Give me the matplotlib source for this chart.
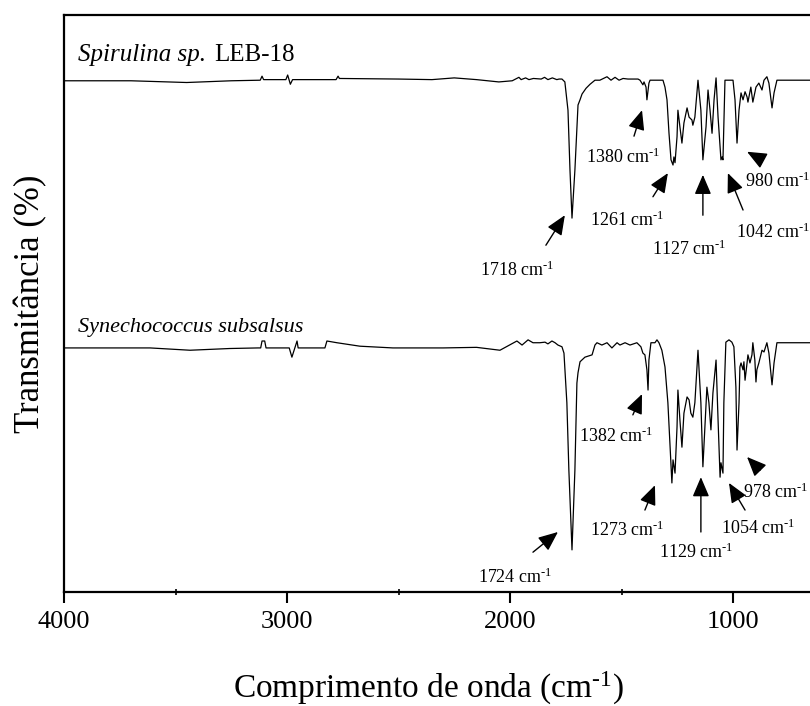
import numpy as np
import matplotlib
matplotlib.use('Agg')
import matplotlib.pyplot as plt
from matplotlib.ticker import MultipleLocator

plt.rcParams['font.family'] = ['Liberation Serif', 'DejaVu Serif']
plt.rcParams['mathtext.fontset'] = 'custom'
plt.rcParams['mathtext.rm'] = 'Liberation Serif'
plt.rcParams['mathtext.it'] = 'Liberation Serif:italic'

# Spirulina sp. LEB-18 (wavenumber cm-1, transmittance a.u.)
spir_wn = [4000, 3700, 3450, 3250, 3120, 3112, 3105, 3005, 2997, 2985, 2975, 2780, 2771, 2765,
           2500, 2350, 2250, 2150, 2050, 1990, 1960, 1950, 1930, 1915, 1895,
           1860, 1845, 1830, 1810, 1790, 1780,
           1767, 1754, 1740, 1731, 1722, 1709, 1695, 1686, 1677, 1659, 1641, 1619,
           1597, 1565, 1547, 1529, 1511, 1493, 1471, 1426,
           1417, 1404, 1399, 1390, 1386, 1377, 1372, 1314,
           1305, 1296, 1287, 1278, 1269, 1265, 1260, 1251, 1247, 1238, 1229, 1220,
           1206, 1197, 1184, 1180, 1171, 1157, 1144, 1135, 1121, 1112, 1103, 1094,
           1085, 1076, 1067, 1054, 1049, 1045, 1036, 1000, 991, 982, 973, 964,
           955, 946, 937, 933, 920, 911, 897, 884, 870, 861, 848, 839, 825, 816, 803, 650]
spir_t = [88.6, 88.6, 88.3, 88.6, 88.7, 89.4, 88.8, 88.8, 89.6, 88.0, 88.8, 88.8, 89.4, 89.0,
          88.9, 88.8, 89.1, 88.8, 88.4, 88.6, 89.2, 88.8, 89.1, 88.8, 89.0,
          88.9, 89.2, 88.8, 89.1, 88.8, 88.9,
          88.9, 88.4, 83.5, 73.1, 64.8, 73.1, 84.4, 85.3, 86.3, 87.3, 88.0, 88.7,
          88.7, 89.3, 88.7, 89.2, 88.7, 89.0, 88.9, 88.9,
          88.7, 87.9, 88.4, 87.5, 85.3, 88.2, 88.7, 88.7,
          87.5, 85.3, 79.5, 74.9, 74.0, 75.4, 74.4, 78.9, 83.5, 80.6, 77.8, 81.3,
          83.9, 82.3, 81.8, 80.9, 82.3, 88.7, 83.5, 74.9, 80.6, 87.0, 83.5, 79.5,
          85.3, 89.1, 82.3, 74.9, 75.4, 74.9, 88.7, 88.7, 85.3, 77.8, 83.5, 86.5,
          85.3, 86.7, 85.8, 84.9, 87.5, 84.9, 87.5, 88.2, 87.0, 88.7, 89.3, 88.2, 83.9, 86.5, 88.7, 88.7]

# Synechococcus subsalsus
syn_wn = [4000, 3614, 3435, 3256, 3130, 3118, 3112, 3100, 3094, 2990, 2978, 2955, 2950,
          2830, 2821, 2776, 2673, 2525, 2300, 2150, 2045, 1969, 1946, 1919, 1897,
          1866, 1843, 1830, 1812, 1798, 1785, 1767, 1758, 1745, 1736, 1722, 1709, 1700,
          1695, 1686, 1664, 1632, 1619, 1610, 1588, 1565, 1543, 1520, 1507, 1484, 1462,
          1431, 1413, 1404, 1395, 1386, 1381, 1377, 1368, 1350, 1341, 1332, 1319, 1305,
          1292, 1274, 1269, 1260, 1251, 1247, 1238, 1229, 1220, 1206, 1197, 1189, 1180,
          1171, 1157, 1144, 1135, 1126, 1117, 1108, 1099, 1090, 1076, 1067, 1058, 1054,
          1045, 1041, 1032, 1018, 1005, 996, 987, 982, 973, 969, 964, 955, 951, 946,
          937, 933, 924, 915, 911, 902, 897, 893, 884, 870, 861, 848, 839, 825, 816,
          803, 776, 731, 668, 650]
syn_t = [42.3, 42.3, 41.9, 42.2, 42.3, 42.3, 43.5, 43.5, 42.3, 42.3, 40.7, 43.5, 42.3,
         42.3, 43.5, 43.2, 42.6, 42.3, 42.3, 42.4, 41.9, 43.5, 42.8, 43.7, 43.2,
         43.2, 43.3, 43.0, 43.5, 43.2, 42.8, 42.5, 41.4, 32.8, 21.1, 7.3, 21.1, 36.2,
         38.0, 39.9, 40.7, 41.1, 42.8, 43.2, 42.8, 43.2, 42.3, 43.2, 42.8, 43.2, 42.8,
         43.2, 42.5, 41.4, 41.1, 38.5, 35.0, 40.2, 43.2, 43.2, 43.7, 43.2, 41.9, 39.0,
         32.8, 18.9, 22.9, 20.6, 28.6, 35.0, 29.8, 25.1, 31.0, 33.8, 33.3, 31.0, 30.3,
         32.8, 41.9, 32.8, 21.7, 28.6, 35.5, 32.8, 28.1, 34.5, 40.2, 29.8, 19.9, 22.4,
         20.6, 32.8, 43.3, 43.7, 43.3, 42.5, 35.5, 24.6, 32.8, 39.0, 39.7, 38.5, 39.9, 36.7,
         39.7, 41.1, 39.7, 41.1, 43.2, 40.2, 36.4, 38.5, 39.7, 41.9, 41.6, 43.2, 41.4, 35.9, 39.7,
         43.2, 43.2, 43.2, 43.2, 43.2]

# band labels: text, text position, arrow tail, arrow head, alignment
bands = [
    ('1718', (1969, 55.8), (1839, 60.1), (1754, 65.3), 'center'),
    ('1380', (1493, 75.4), (1444, 79.0), (1408, 83.5), 'center'),
    ('1261', (1476, 64.5), (1359, 68.5), (1292, 72.6), 'center'),
    ('1127', (1198, 59.4), (1135, 65.3), (1135, 72.3), 'center'),
    ('1042', (987, 62.4), (955, 66.2), (1023, 72.6), 'left'),
    ('980', (946, 71.2), (870, 74.9), (937, 76.3), 'left'),
    ('1724', (1978, 2.6), (1897, 6.9), (1785, 10.4), 'center'),
    ('1382', (1525, 27.0), (1449, 30.7), (1408, 34.3), 'center'),
    ('1273', (1476, 10.7), (1395, 14.2), (1350, 18.5), 'center'),
    ('1129', (1166, 6.9), (1144, 10.4), (1144, 19.9), 'center'),
    ('1054', (888, 11.1), (946, 14.2), (1018, 18.9), 'center'),
    ('978', (955, 17.3), (879, 21.1), (937, 23.4), 'left'),
]

fig = plt.figure(figsize=(8.1, 7.06), dpi=100)
ax = fig.add_axes([64 / 810, 114 / 706, 3600 * 0.223 / 810, 577 / 706])

ax.plot(spir_wn, spir_t, color='black', lw=0.9)
ax.plot(syn_wn, syn_t, color='black', lw=0.9)

# sample names
ax.text(3937, 93.1, 'Spirulina sp.', fontsize=18, style='italic', va='center', ha='left')
ax.text(3325, 93.1, 'LEB-18', fontsize=18, va='center', ha='left')
ax.text(3937, 45.9, 'Synechococcus subsalsus', fontsize=16, style='italic',
        va='center', ha='left')

for lab, txt, tail, head, ha in bands:
    ax.text(txt[0], txt[1], lab + r' cm$^{\text{-1}}$', fontsize=13, ha=ha, va='center')
    ax.annotate('', xy=head, xytext=tail,
                arrowprops=dict(arrowstyle='-|>,head_length=0.75,head_width=0.32',
                                color='black', lw=1.0, mutation_scale=16,
                                shrinkA=0, shrinkB=0))

ax.set_xlim(4000, 400)
ax.set_ylim(0, 100)
ax.set_yticks([])
ax.xaxis.set_major_locator(MultipleLocator(1000))
ax.xaxis.set_minor_locator(MultipleLocator(500))
ax.tick_params(axis='x', which='major', direction='out', length=8, width=1.5,
               labelsize=19, pad=6)
ax.tick_params(axis='x', which='minor', direction='inout', length=4, width=1.2)
for sp in ax.spines.values():
    sp.set_linewidth(1.6)

ax.set_ylabel('Transmitância (%)', fontsize=25, labelpad=12)
fig.text(428 / 810, 1 - 688 / 706, r'Comprimento de onda (cm$^{\text{-1}}$)',
         fontsize=24, ha='center', va='center')

fig.savefig('out.png', dpi=100)
